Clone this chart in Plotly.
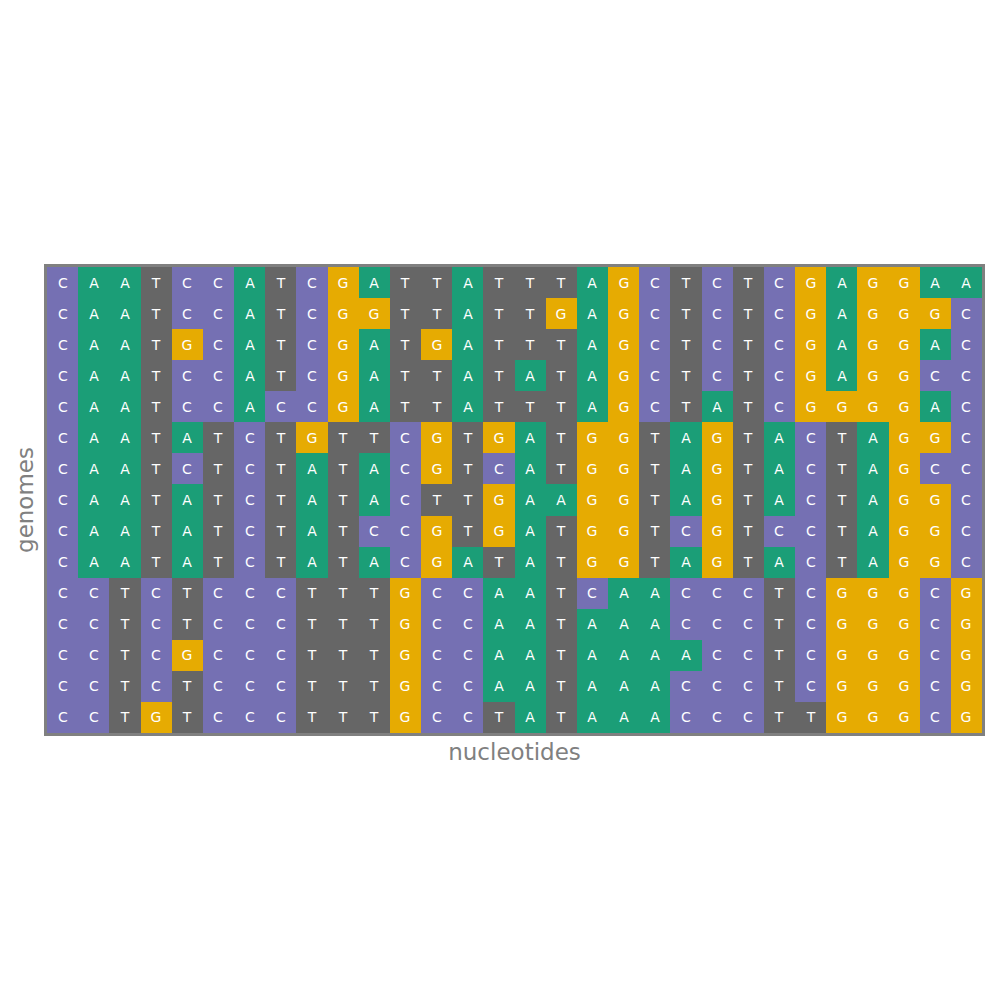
import plotly.graph_objects as go

# Sequences (one string per genome, top to bottom)
genomes = [
    "CAATCCATCGATTATTTAGCTCTCGAGGAA",
    "CAATCCATCGGTTATTGAGCTCTCGAGGGC",
    "CAATGCATCGATGATTTAGCTCTCGAGGAC",
    "CAATCCATCGATTATATAGCTCTCGAGGCC",
    "CAATCCACCGATTATTTAGCTATCGGGGAC",
    "CAATATCTGTTCGTGATGGTAGTACTAGGC",
    "CAATCTCTATACGTCATGGTAGTACTAGCC",
    "CAATATCTATACTTGAAGGTAGTACTAGGC",
    "CAATATCTATCCGTGATGGTCGTCCTAGGC",
    "CAATATCTATACGATATGGTAGTACTAGGC",
    "CCTCTCCCTTTGCCAATCAACCCTCGGGCG",
    "CCTCTCCCTTTGCCAATAAACCCTCGGGCG",
    "CCTCGCCCTTTGCCAATAAAACCTCGGGCG",
    "CCTCTCCCTTTGCCAATAAACCCTCGGGCG",
    "CCTGTCCCTTTGCCTATAAACCCTTGGGCG",
]
bases = ["A", "C", "G", "T"]
base_colors = ["#1b9e77", "#7570b3", "#e6ab02", "#666666"]

n_rows = len(genomes)
n_cols = len(genomes[0])
z = [[bases.index(ch) for ch in row] for row in genomes]
text = [list(row) for row in genomes]

colorscale = []
for i, c in enumerate(base_colors):
    colorscale.append([i / 4, c])
    colorscale.append([(i + 1) / 4, c])

fig = go.Figure(
    go.Heatmap(
        z=z,
        x=list(range(n_cols)),
        y=list(range(n_rows)),
        text=text,
        texttemplate="%{text}",
        textfont=dict(color="white", size=14, family="DejaVu Sans"),
        colorscale=colorscale,
        zmin=-0.5,
        zmax=3.5,
        showscale=False,
        hoverinfo="skip",
    )
)

fig.update_layout(
    width=984,
    height=984,
    margin=dict(l=39, r=7, t=259, b=259),
    paper_bgcolor="white",
    plot_bgcolor="white",
    font=dict(family="DejaVu Sans", color="gray"),
)
fig.update_xaxes(
    showticklabels=False, ticks="", showgrid=False, zeroline=False,
    showline=True, mirror=True, linewidth=3, linecolor="#808080",
    range=[-0.5, n_cols - 0.5],
    title=dict(text="nucleotides", font=dict(size=23, color="gray"), standoff=9),
)
fig.update_yaxes(
    showticklabels=False, ticks="", showgrid=False, zeroline=False,
    showline=True, mirror=True, linewidth=3, linecolor="#808080",
    range=[n_rows - 0.5, -0.5],
    title=dict(text="genomes", font=dict(size=23, color="gray"), standoff=4),
)

fig.write_html("out.html")
